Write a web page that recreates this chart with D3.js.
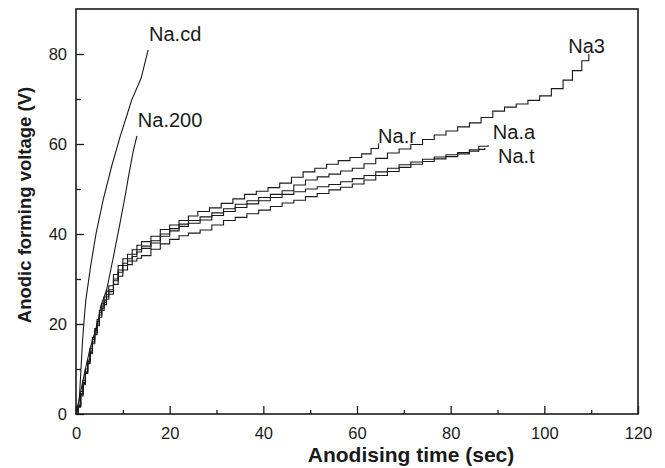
<!DOCTYPE html>
<html>
<head>
<meta charset="utf-8">
<script src="https://cdn.jsdelivr.net/npm/d3@7"></script>
<style>
	body { margin: 0; background: #fff; }
	svg { display: block; }
	text { font-family: "Liberation Sans", Arial, sans-serif; fill: #1a1a1a; }
</style>
</head>
<body>
<div id="chart"></div>
<script>
// [time (sec), voltage (V)]
const naCd = [[0,0],[0.6,1.6],[0.85,6],[1.4,16.4],[1.9,23],[2.1,25.3],[3.1,32.7],[4.3,40.2],
	[5.8,47.6],[7.6,55],[9.4,61.6],[10.6,65.5],[11.9,69.8],[13.9,74.6],[15.4,80.9]];

const na200 = [[0,0],[1,5],[2,10],[3,14.5],[4,18],[4.8,21],[5.3,24],[6.55,27.6],[8,35],
	[9.4,42.4],[10.5,48.5],[11.2,52.7],[12.2,58.3],[13,61.8]];

const naR = [[0,0],[0.5,2],[1,5],[1.5,7.5],[2,10],[2.5,12],[3,14.5],[3.5,17],[4,19],[4.5,21],
	[5,23],[5.5,24.5],[6,26],[6.5,27.3],[7,28.5],[8,31],[9,33],[10,34.5],[11,35.5],[12,36.5],
	[13,37.5],[14,38.3],[16,39.5],[18,41],[20,42],[22,43],[24,44],[26,45],[28.5,45.8],[31,46.8],
	[33.5,47.8],[36,48.8],[38.5,49.5],[41,50.3],[43.5,51.3],[46,52.6],[48.5,53.8],[51,54.6],
	[53.5,55.5],[56,56.3],[58.5,57],[61,57.8],[63,59],[64.6,60.1]];

const na3 = [[0,0],[0.5,1.8],[1,4.5],[1.5,7],[2,9.5],[2.5,11.7],[3,14],[3.5,16.5],[4,18.5],
	[4.5,20.5],[5,22.5],[5.5,24],[6,25.3],[6.5,26.5],[7,27.6],[8,30],[9,32],[10,33.5],[11,34.5],
	[12,35.5],[13,36.5],[14,37.3],[16,38.5],[18,40],[20,41.2],[22,42.2],[24,43],[26.5,43.8],
	[29,44.7],[31.5,45.6],[34,46.6],[36.5,47.4],[39,48.1],[41.5,48.8],[44,49.6],[46.5,50.9],
	[49,52],[51.5,52.7],[54,53.3],[56.5,54],[59,54.6],[61.5,55.6],[64,56.8],[66.5,58],[69,58.9],
	[71.5,59.9],[74,61],[76.5,62],[79,62.9],[81.5,63.8],[84,64.7],[86.5,65.9],[89,67.3],
	[91.5,68.2],[94,68.9],[96.5,69.7],[99,70.7],[101.5,72.3],[104,74.2],[106,76.3],[108,78.5],
	[109.5,80]];

const naA = [[0,0],[0.5,1.7],[1,4.3],[1.5,6.8],[2,9.2],[2.5,11.5],[3,13.7],[3.5,16],[4,18],
	[4.5,20],[5,22],[5.5,23.5],[6,24.8],[6.5,26],[7,27.2],[8,29.6],[9,31.5],[10,33],[11,34],
	[12,35],[13,36],[14,36.8],[16,38],[18,39.5],[20,40.7],[22,41.7],[24,42.4],[26.5,43.1],
	[29,44.1],[31.5,45],[34,45.9],[36.5,46.7],[39,47.4],[41.5,48.1],[44,48.8],[46.5,49.4],
	[49,50],[51.5,50.5],[54,51],[56.5,51.6],[59,52.3],[61.5,53],[64,53.8],[66.5,54.6],[69,55.4],
	[71.5,56],[74,56.6],[76.5,57.1],[79,57.6],[81.5,58.1],[84,58.7],[86,59.5],[88,59.8]];

const naT = [[0,0],[0.5,1.5],[1,4],[1.5,6.5],[2,9],[2.5,11.2],[3,13.4],[3.5,15.6],[4,17.6],
	[4.5,19.6],[5,21.5],[5.5,23],[6,24.3],[6.5,25.5],[7,26.6],[8,28.8],[9,30.6],[10,32],[11,33.2],
	[12,34],[13,34.6],[14,35.2],[16,36.6],[18,37.8],[20,38.8],[22,39.6],[24,40.2],[26.5,40.9],
	[29,42],[31.5,43],[34,43.7],[36.5,44.5],[39,45.3],[41.5,46.1],[44,46.9],[46.5,47.5],[49,48.3],
	[51.5,49],[54,49.8],[56.5,50.4],[59,51.1],[61.5,52],[64,53],[66.5,53.9],[69,54.8],[71.5,55.5],
	[74,56.1],[76.5,56.7],[79,57.2],[81.5,57.8],[84,58.4],[86,58.8],[87.3,59.1]];

const smoothSeries = [naCd, na200];
const steppedSeries = [naR, na3, naA, naT];

// label text and anchor in data units (time, voltage)
const seriesLabels = [
	["Na.cd", 15.6, 82.8],
	["Na.200", 13.2, 63.7],
	["Na3", 105.1, 80.3],
	["Na.r", 64.5, 60.2],
	["Na.a", 89, 61.1],
	["Na.t", 90.1, 55.8]
];

const xMajor = [0, 20, 40, 60, 80, 100, 120];
const xMinor = [10, 30, 50, 70, 90, 110];
const yMajor = [0, 20, 40, 60, 80];
const yMinor = [10, 30, 50, 70];

const width = 665,
		height = 468,
		plot = { left: 76, right: 638, top: 9, bottom: 414 },
		ink = "#1a1a1a";

const svg = d3.select("#chart")
	.append("svg")
		.attr("width", width)
		.attr("height", height);

const x = d3.scaleLinear().domain([0, 120]).range([plot.left, plot.right]);
const y = d3.scaleLinear().domain([0, 90]).range([plot.bottom, plot.top]);

// Axes (ticks point inward)

const styleAxis = (g) => {
	g.select(".domain").remove();
	g.selectAll(".tick line").attr("stroke", ink).attr("stroke-width", 1.3);
	g.selectAll(".tick text").attr("fill", ink).style("font-size", "16.5px").attr("font-family", null);
};

svg.append("g")
	.attr("transform", `translate(0,${plot.bottom})`)
	.call(d3.axisBottom(x).tickValues(xMajor).tickSize(-8).tickPadding(13).tickFormat(d3.format("d")))
	.call(styleAxis);

svg.append("g")
	.attr("transform", `translate(0,${plot.bottom})`)
	.call(d3.axisBottom(x).tickValues(xMinor).tickSize(-4).tickFormat(""))
	.call(styleAxis);

svg.append("g")
	.attr("transform", `translate(${plot.left},0)`)
	.call(d3.axisLeft(y).tickValues(yMajor).tickSize(-8).tickPadding(9).tickFormat(d3.format("d")))
	.call(styleAxis);

svg.append("g")
	.attr("transform", `translate(${plot.left},0)`)
	.call(d3.axisLeft(y).tickValues(yMinor).tickSize(-5).tickFormat(""))
	.call(styleAxis);

// Frame

svg.append("rect")
	.attr("x", plot.left)
	.attr("y", plot.top)
	.attr("width", plot.right - plot.left)
	.attr("height", plot.bottom - plot.top)
	.attr("fill", "none")
	.attr("stroke", ink)
	.attr("stroke-width", 1.6);

// Curves

const smoothLine = d3.line()
	.x((d) => x(d[0]))
	.y((d) => y(d[1]));

const stepLine = d3.line()
	.x((d) => x(d[0]))
	.y((d) => y(d[1]))
	.curve(d3.curveStepAfter);

svg.append("g")
	.selectAll("path")
		.data(smoothSeries)
		.enter()
		.append("path")
			.attr("d", smoothLine)
			.attr("fill", "none")
			.attr("stroke", ink)
			.attr("stroke-width", 1.1);

svg.append("g")
	.selectAll("path")
		.data(steppedSeries)
		.enter()
		.append("path")
			.attr("d", stepLine)
			.attr("fill", "none")
			.attr("stroke", ink)
			.attr("stroke-width", 1.1);

// Labels

svg.append("g")
	.selectAll("text")
		.data(seriesLabels)
		.enter()
		.append("text")
			.attr("x", (d) => x(d[1]))
			.attr("y", (d) => y(d[2]))
			.style("font-size", "20px")
			.text((d) => d[0]);

// Axis titles

svg.append("text")
	.attr("x", 411)
	.attr("y", 462)
	.attr("text-anchor", "middle")
	.style("font-size", "21px")
	.style("font-weight", "bold")
	.text("Anodising time (sec)");

svg.append("text")
	.attr("transform", "translate(31,205) rotate(-90)")
	.attr("text-anchor", "middle")
	.style("font-size", "18.5px")
	.style("font-weight", "bold")
	.text("Anodic forming voltage (V)");
</script>
</body>
</html>
